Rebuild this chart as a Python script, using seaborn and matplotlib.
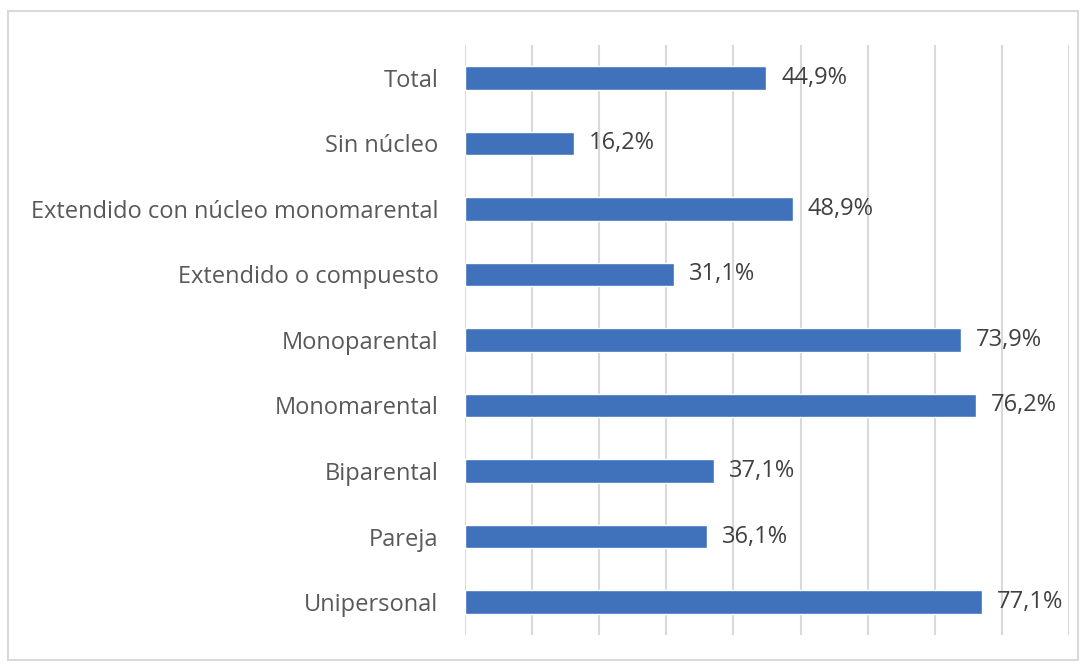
import pandas as pd
import seaborn as sns
import matplotlib.pyplot as plt
from matplotlib.patches import Rectangle

categorias = ["Total", "Sin núcleo", "Extendido con núcleo monomarental",
              "Extendido o compuesto", "Monoparental", "Monomarental",
              "Biparental", "Pareja", "Unipersonal"]
valores = [44.9, 16.2, 48.9, 31.1, 73.9, 76.2, 37.1, 36.1, 77.1]

df = pd.DataFrame({"tipo": categorias, "pct": valores})

sns.set_theme(style="white")
plt.rcParams['font.family'] = ['Open Sans', 'DejaVu Sans']

fig = plt.figure(figsize=(10.89, 6.64), dpi=100)
ax = fig.add_axes([0.427, 0.044, 0.5546, 0.888])

sns.barplot(data=df, x="pct", y="tipo", orient="h", color="#3F72BA",
            saturation=1, width=0.36, ax=ax)

ax.set_xlim(0, 90)
ax.set_ylim(8.5, -0.5)
ax.set_xticks(range(0, 91, 10))
ax.xaxis.grid(True, color="#d9d9d9", linewidth=1.5)
ax.set_axisbelow(True)
ax.set_xticklabels([])
ax.tick_params(axis="x", length=0)
ax.tick_params(axis="y", length=0, pad=19, labelsize=17, labelcolor="#595959")
ax.set_xlabel("")
ax.set_ylabel("")
for s in ax.spines.values():
    s.set_visible(False)

for i, v in enumerate(valores):
    ax.text(v + 2.2, i, f"{v:.1f}%".replace(".", ","), va="center", ha="left",
            fontsize=17, color="#404040")

fig.patches.append(Rectangle((8 / 1089, 1 - 660 / 664), 1070 / 1089, 649 / 664,
                             transform=fig.transFigure, fill=False,
                             edgecolor="#d9d9d9", linewidth=1.5))

fig.savefig("out.png", dpi=100)
